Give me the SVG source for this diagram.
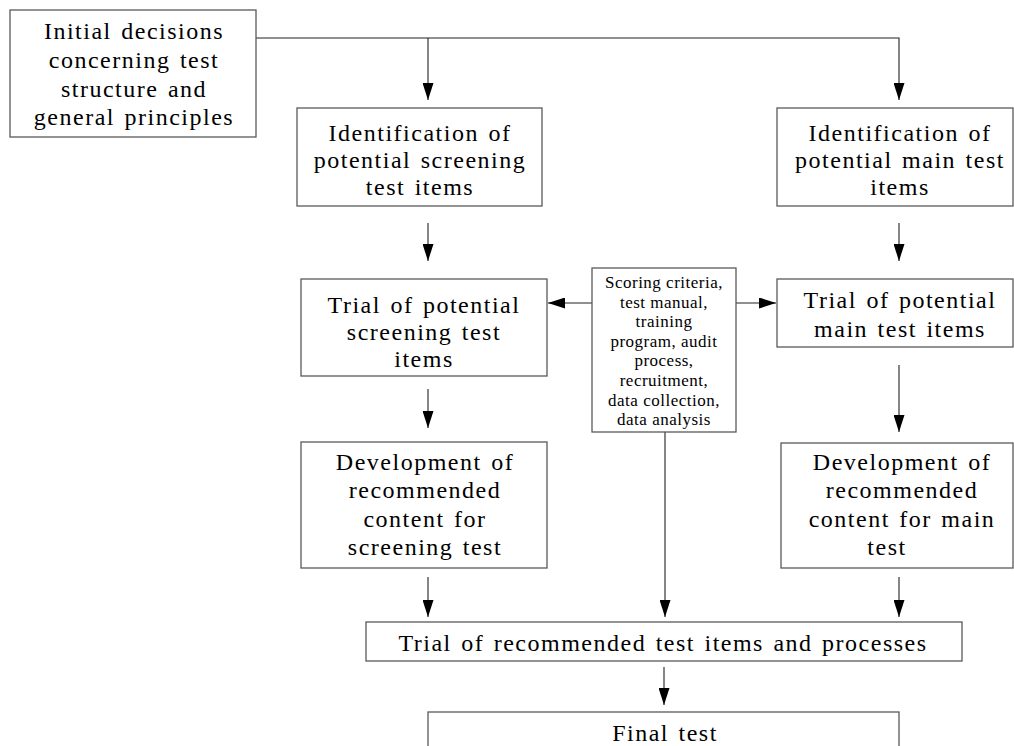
<svg xmlns="http://www.w3.org/2000/svg" width="1014" height="746" viewBox="0 0 1014 746">
<style>
.box{fill:#fff;stroke:#5a5a5a;stroke-width:1.3}
.t{font-family:"Liberation Serif","Times New Roman",serif;font-size:24px;letter-spacing:1.5px;word-spacing:2px;fill:#000;text-anchor:middle}
.s{font-family:"Liberation Serif","Times New Roman",serif;font-size:17px;letter-spacing:0.5px;fill:#000;text-anchor:middle}
.c{fill:none;stroke:#222;stroke-width:1.1}
</style>
<defs>
<marker id="ah" viewBox="0 0 17 11" refX="17" refY="5.5" markerWidth="17" markerHeight="11" markerUnits="userSpaceOnUse" orient="auto">
<path d="M0,0 L17,5.5 L0,11 Z" fill="#000"/>
</marker>
</defs>
<rect width="1014" height="746" fill="#fff"/>
<g id="connectors">
<path class="c" d="M256,38 H899 V100" marker-end="url(#ah)"/>
<path class="c" d="M428,38 V100" marker-end="url(#ah)"/>
<path class="c" d="M428,223 V261" marker-end="url(#ah)"/>
<path class="c" d="M899,223 V261" marker-end="url(#ah)"/>
<path class="c" d="M592,303 H548" marker-end="url(#ah)"/>
<path class="c" d="M736,303 H776" marker-end="url(#ah)"/>
<path class="c" d="M428,389 V428" marker-end="url(#ah)"/>
<path class="c" d="M899,365 V432" marker-end="url(#ah)"/>
<path class="c" d="M665,432 V617" marker-end="url(#ah)"/>
<path class="c" d="M428,577 V617" marker-end="url(#ah)"/>
<path class="c" d="M899,577 V617" marker-end="url(#ah)"/>
<path class="c" d="M664,667 V705" marker-end="url(#ah)"/>
</g>
<g id="initial">
<rect class="box" x="10" y="10" width="246" height="127"/>
<text class="t" x="134" y="39">Initial decisions</text>
<text class="t" x="134" y="68">concerning test</text>
<text class="t" x="134" y="97">structure and</text>
<text class="t" x="134" y="125">general principles</text>
</g>
<g id="ident-screening">
<rect class="box" x="297" y="108" width="245" height="98"/>
<text class="t" x="420" y="141">Identification of</text>
<text class="t" x="420" y="168">potential screening</text>
<text class="t" x="420" y="195">test items</text>
</g>
<g id="ident-main">
<rect class="box" x="777" y="108" width="236" height="98"/>
<text class="t" x="900" y="141">Identification of</text>
<text class="t" x="900" y="168">potential main test</text>
<text class="t" x="900" y="195">items</text>
</g>
<g id="trial-screening">
<rect class="box" x="301" y="279" width="246" height="97"/>
<text class="t" x="424" y="313">Trial of potential</text>
<text class="t" x="424" y="340">screening test</text>
<text class="t" x="424" y="367">items</text>
</g>
<g id="scoring">
<rect class="box" x="592" y="268" width="144" height="164"/>
<text class="s" x="664" y="288">Scoring criteria,</text>
<text class="s" x="664" y="307.6">test manual,</text>
<text class="s" x="664" y="327.2">training</text>
<text class="s" x="664" y="346.8">program, audit</text>
<text class="s" x="664" y="366.4">process,</text>
<text class="s" x="664" y="386">recruitment,</text>
<text class="s" x="664" y="405.6">data collection,</text>
<text class="s" x="664" y="425.2">data analysis</text>
</g>
<g id="trial-main">
<rect class="box" x="777" y="279" width="236" height="68"/>
<text class="t" x="900" y="308">Trial of potential</text>
<text class="t" x="900" y="337">main test items</text>
</g>
<g id="dev-screening">
<rect class="box" x="301" y="442" width="246" height="126"/>
<text class="t" x="425" y="470">Development of</text>
<text class="t" x="425" y="498">recommended</text>
<text class="t" x="425" y="527">content for</text>
<text class="t" x="425" y="555">screening test</text>
</g>
<g id="dev-main">
<rect class="box" x="781" y="443" width="232" height="125"/>
<text class="t" x="902" y="470">Development of</text>
<text class="t" x="902" y="498">recommended</text>
<text class="t" x="902" y="527">content for main</text>
<text class="t" x="887" y="555">test</text>
</g>
<g id="trial-recommended">
<rect class="box" x="366" y="622" width="596" height="39"/>
<text class="t" x="663" y="651">Trial of recommended test items and processes</text>
</g>
<g id="final">
<rect class="box" x="428" y="712" width="471" height="60"/>
<text class="t" x="665" y="741">Final test</text>
</g>
</svg>
